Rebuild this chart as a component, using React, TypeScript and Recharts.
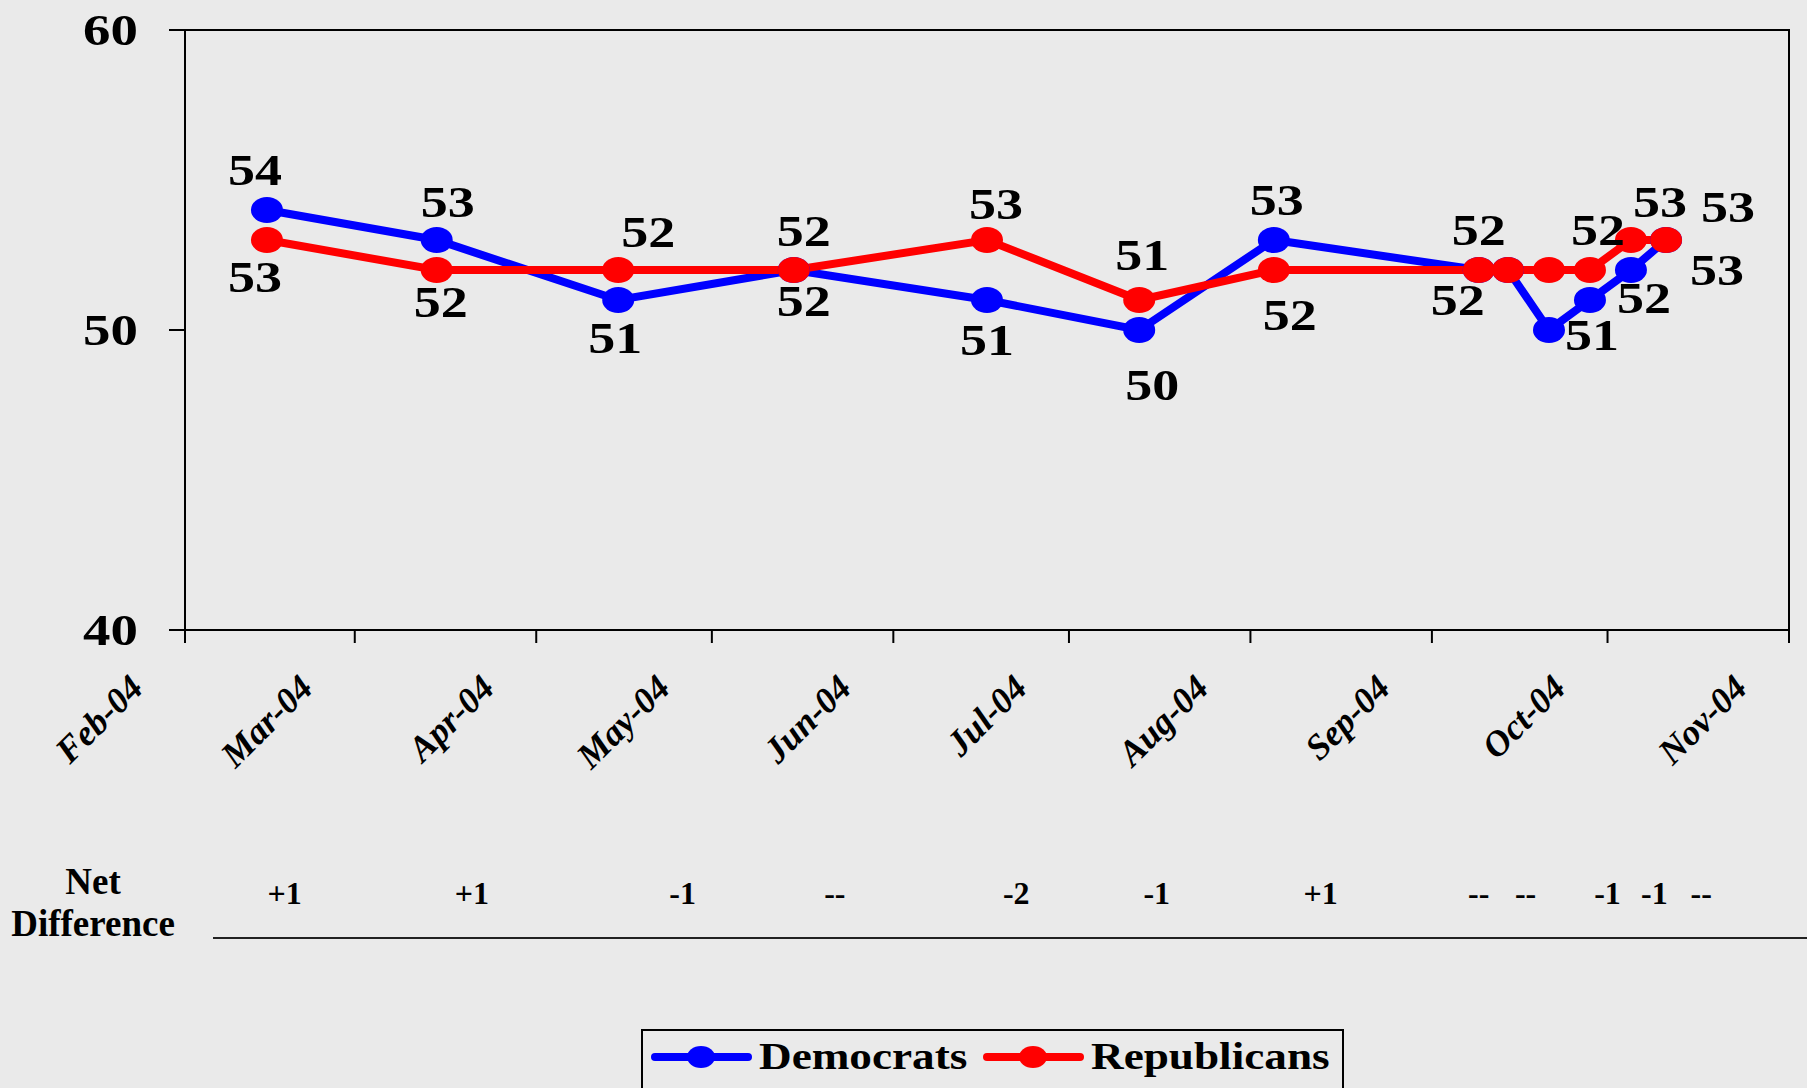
import React from "react";
import { LineChart, Line, XAxis, YAxis, ReferenceArea, LabelList, Legend } from "recharts";

// poll dates and party scores
const pollDates = [
  "2004-02-15", "2004-03-15", "2004-04-15", "2004-05-15", "2004-06-17", "2004-07-13", "2004-08-05",
  "2004-09-09", "2004-09-14", "2004-09-21", "2004-09-28", "2004-10-05", "2004-10-11",
];
const democrats = [54, 53, 51, 52, 51, 50, 53, 52, 52, 50, 51, 52, 53];
const republicans = [53, 52, 52, 52, 53, 51, 52, 52, 52, 52, 52, 53, 53];

const monthTicks = [
  "2004-02-01", "2004-03-01", "2004-04-01", "2004-05-01", "2004-06-01",
  "2004-07-01", "2004-08-01", "2004-09-01", "2004-10-01", "2004-11-01",
];
const monthLabels = ["Feb-04", "Mar-04", "Apr-04", "May-04", "Jun-04", "Jul-04", "Aug-04", "Sep-04", "Oct-04", "Nov-04"];

const yTicks = [40, 50, 60];

// net difference row
const netLabels = ["+1", "+1", "-1", "--", "-2", "-1", "+1", "--", "--", "-1", "-1", "--"];
const netLabelDates = [
  "2004-02-18", "2004-03-21", "2004-04-26", "2004-05-22", "2004-06-22", "2004-07-16",
  "2004-08-13", "2004-09-09", "2004-09-17", "2004-10-01", "2004-10-09", "2004-10-17",
];

// where each value label sits relative to its point (null = not shown)
const demLabelNudge: ([number, number] | null)[] = [
  [-12, -25], [11, -23], [-3, 53], [10, 46], [0, 55], [13, 70], [3, -25],
  [-21, 45], null, null, [2, 50], [13, 43], [51, 45],
];
const repLabelNudge: ([number, number] | null)[] = [
  [-12, 52], [4, 47], [30, -23], [10, -24], [9, -21], [3, -30], [16, 60],
  [0, -25], null, null, [8, -25], [29, -23], [62, -18],
];

const FONT = "'Liberation Serif', 'Times New Roman', serif";
const BG = "#eaeaea";
const DEM = "#0000ff";
const REP = "#ff0000";

const toTime = (d: string) => new Date(d + "T00:00:00Z").getTime();

const data = pollDates.map((d, i) => ({ t: toTime(d), dem: democrats[i], rep: republicans[i] }));
const xDomain = [toTime(monthTicks[0]), toTime(monthTicks[monthTicks.length - 1])];

const YTick = ({ x, y, payload }: any) => (
  <text
    transform={`translate(${x - 31},${y + 15}) scale(1.22,1)`}
    textAnchor="end"
    fontFamily={FONT}
    fontWeight="bold"
    fontSize={45}
    fill="#000"
  >
    {payload.value}
  </text>
);

const MonthTick = ({ x, y, index }: any) => (
  <text
    transform={`translate(${x - 40},${y + 47}) rotate(-45)`}
    textAnchor="end"
    fontFamily={FONT}
    fontWeight="bold"
    fontStyle="italic"
    fontSize={36}
    fill="#000"
  >
    {monthLabels[index]}
  </text>
);

const NetTick = ({ x, y, index }: any) => (
  <text x={x} y={y + 34} textAnchor="middle" fontFamily={FONT} fontWeight="bold" fontSize={32} fill="#000">
    {netLabels[index]}
  </text>
);

const makeDot = (color: string) => (props: any) =>
  <ellipse key={`d-${props.index}`} cx={props.cx} cy={props.cy} rx={16} ry={13} fill={color} />;

const makeLabel = (nudge: ([number, number] | null)[]) => (props: any) => {
  const n = nudge[props.index];
  if (!n) return null;
  return (
    <text
      key={`l-${props.index}`}
      transform={`translate(${props.x + n[0]},${props.y + n[1]}) scale(1.2,1)`}
      textAnchor="middle"
      fontFamily={FONT}
      fontWeight="bold"
      fontSize={45}
      fill="#000"
    >
      {props.value}
    </text>
  );
};

const LegendBox = ({ payload }: any) => {
  const items = payload || [];
  const starts = [14, 346];
  return (
    <svg width={703} height={60} style={{ display: "block" }}>
      <rect x={1} y={1} width={701} height={62} fill="none" stroke="#000" strokeWidth={2} />
      {items.map((it: any, i: number) => {
        const s = starts[i] ?? 14;
        return (
          <g key={it.value}>
            <line x1={s} y1={28} x2={s + 93} y2={28} stroke={it.color} strokeWidth={8} strokeLinecap="round" />
            <ellipse cx={s + 46} cy={28} rx={14} ry={11} fill={it.color} />
            <text
              transform={`translate(${s + 104},40) scale(1.19,1)`}
              fontFamily={FONT}
              fontWeight="bold"
              fontSize={38}
              fill="#000"
            >
              {it.value}
            </text>
          </g>
        );
      })}
    </svg>
  );
};

const App: React.FC = () => {
  return (
    <div style={{ position: "relative", width: 1807, height: 1088, background: BG, overflow: "hidden" }}>
      <style>{`body{margin:0;background:${BG};}`}</style>
      <LineChart width={1807} height={1088} data={data} margin={{ top: 30, right: 18, bottom: 158, left: 0 }}>
        <XAxis
          dataKey="t"
          type="number"
          domain={xDomain}
          ticks={monthTicks.map(toTime)}
          interval={0}
          tick={<MonthTick />}
          tickSize={13}
          tickMargin={0}
          height={240}
          axisLine={{ stroke: "#000", strokeWidth: 2 }}
          tickLine={{ stroke: "#000", strokeWidth: 2 }}
        />
        <XAxis
          xAxisId="net"
          dataKey="t"
          type="number"
          domain={xDomain}
          ticks={netLabelDates.map(toTime)}
          interval={0}
          tick={<NetTick />}
          tickSize={0}
          tickMargin={0}
          height={60}
          axisLine={false}
          tickLine={false}
        />
        <YAxis
          domain={[40, 60]}
          ticks={yTicks}
          interval={0}
          width={185}
          tick={<YTick />}
          tickSize={16}
          tickMargin={0}
          axisLine={{ stroke: "#000", strokeWidth: 2 }}
          tickLine={{ stroke: "#000", strokeWidth: 2 }}
        />
        <ReferenceArea
          x1={xDomain[0]}
          x2={xDomain[1]}
          y1={40}
          y2={60}
          fill="none"
          fillOpacity={0}
          stroke="#000"
          strokeWidth={2}
        />
        <Legend
          layout="horizontal"
          verticalAlign="middle"
          align="center"
          wrapperStyle={{ top: 1029, left: 641, width: 703, height: 60 }}
          content={<LegendBox />}
        />
        <Line
          name="Democrats"
          dataKey="dem"
          type="linear"
          stroke={DEM}
          strokeWidth={8}
          dot={makeDot(DEM)}
          activeDot={false}
          isAnimationActive={false}
        >
          <LabelList dataKey="dem" content={makeLabel(demLabelNudge)} />
        </Line>
        <Line
          name="Republicans"
          dataKey="rep"
          type="linear"
          stroke={REP}
          strokeWidth={8}
          dot={makeDot(REP)}
          activeDot={false}
          isAnimationActive={false}
        >
          <LabelList dataKey="rep" content={makeLabel(repLabelNudge)} />
        </Line>
      </LineChart>
      <div
        style={{
          position: "absolute",
          left: 0,
          top: 861,
          width: 186,
          textAlign: "center",
          fontFamily: FONT,
          fontWeight: "bold",
          fontSize: 37,
          lineHeight: "42px",
          color: "#000",
        }}
      >
        Net
        <br />
        Difference
      </div>
      <div style={{ position: "absolute", left: 213, top: 937, width: 1594, height: 2, background: "#222" }} />
    </div>
  );
};

export default App;
